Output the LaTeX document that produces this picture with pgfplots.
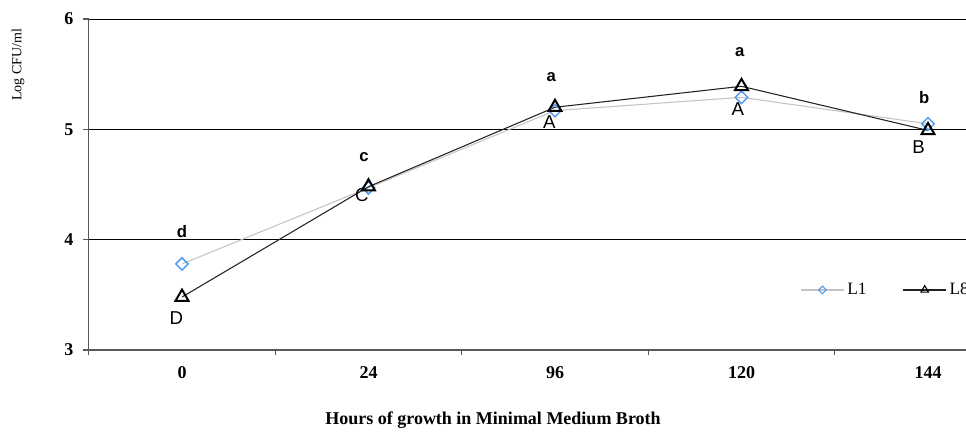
\documentclass[border=0pt]{standalone}
\usepackage{pgfplots}
\pgfplotsset{compat=1.18}
\usepackage{fontspec}
\setmainfont{Liberation Serif}
\newfontfamily\arialfont{Liberation Sans}
\definecolor{lone}{HTML}{4F9BF0}
\definecolor{lonel}{HTML}{C4C4C4}
\definecolor{leight}{HTML}{222222}
\begin{document}
\begin{tikzpicture}
\useasboundingbox (0pt,0pt) rectangle (724.5pt,326.25pt);
\clip (0pt,0pt) rectangle (724.5pt,326.25pt);
\begin{axis}[
  at={(66.5625pt,63.75pt)}, anchor=south west, scale only axis,
  width=671.4pt, height=248.25pt,
  xmin=-0.5, xmax=4.3, ymin=3, ymax=6,
  clip=false,
  axis lines=left, axis line style={-, black!65, line width=0.9pt},
  ymajorgrids, grid style={black, line width=0.7pt},
  ytick={3,4,5,6},
  xtick={0,1,2,3,4},
  xticklabels={0,24,96,120,144},
  minor xtick={-0.5,0.5,1.5,2.5,3.5},
  tick align=outside,
  major tick length=4pt,
  minor tick length=4pt,
  x tick style={draw=none},
  minor x tick style={draw=black!65, line width=0.9pt},
  y tick style={black!65, line width=0.9pt},
  /pgf/number format/assume math mode=true,
  ticklabel style={font=\fontsize{13.5}{15}\selectfont\bfseries},
  xticklabel style={yshift=-5pt},
  yticklabel style={xshift=-4pt},
  legend columns=2,
  legend style={at={(axis cs:3.314,3.544)}, anchor=west, draw=none, fill=none,
    inner sep=0pt, font=\fontsize{13}{15}\selectfont,
    /tikz/every even column/.append style={column sep=25pt}},
  legend image code/.code={\draw[mark repeat=2,mark phase=2] plot coordinates {(0cm,0cm)(0.57cm,0cm)(1.14cm,0cm)};},
]
\addplot[forget plot, color=lonel, line width=0.8pt, mark=square, mark size=3.3pt,
  mark options={rotate=45, draw=lone, fill=white, line width=1.1pt, solid}]
  coordinates {(0,3.78)(1,4.47)(2,5.17)(3,5.29)(4,5.05)};
\addplot[forget plot, color=leight, line width=0.8pt, mark=triangle, mark size=5.6pt,
  mark options={draw=black, fill=white, line width=1.5pt, solid}]
  coordinates {(0,3.48)(1,4.48)(2,5.20)(3,5.39)(4,4.99)};
\addlegendimage{color=lonel, line width=0.8pt, mark=square, mark size=2pt,
  mark options={rotate=45, draw=lone, fill=white, line width=0.8pt, solid}}
\addlegendentry{L1}
\addlegendimage{color=leight, line width=0.8pt, mark=triangle, mark size=3.3pt,
  mark options={draw=black, fill=white, line width=0.8pt, solid}}
\addlegendentry{L8}
% significance letters
\node[font=\arialfont\bfseries\fontsize{12.5}{13}\selectfont] at (axis cs:0,4.07) {d};
\node[font=\arialfont\fontsize{14}{16}\selectfont] at (axis cs:-0.03,3.29) {D};
\node[font=\arialfont\bfseries\fontsize{12.5}{13}\selectfont] at (axis cs:0.976,4.75) {c};
\node[font=\arialfont\fontsize{14}{16}\selectfont] at (axis cs:0.965,4.40) {C};
\node[font=\arialfont\bfseries\fontsize{12.5}{13}\selectfont] at (axis cs:1.98,5.47) {a};
\node[font=\arialfont\fontsize{14}{16}\selectfont] at (axis cs:1.97,5.07) {A};
\node[font=\arialfont\bfseries\fontsize{12.5}{13}\selectfont] at (axis cs:2.99,5.70) {a};
\node[font=\arialfont\fontsize{14}{16}\selectfont] at (axis cs:2.98,5.18) {A};
\node[font=\arialfont\bfseries\fontsize{12.5}{13}\selectfont] at (axis cs:3.98,5.29) {b};
\node[font=\arialfont\fontsize{14}{16}\selectfont] at (axis cs:3.95,4.84) {B};
\end{axis}
\node[rotate=90, font=\fontsize{10.5}{12}\selectfont] at (13.5pt,277.5pt) {Log CFU/ml};
\node[font=\fontsize{13.5}{15}\selectfont\bfseries] at (369.75pt,11.25pt) {Hours of growth in Minimal Medium Broth};
\end{tikzpicture}
\end{document}
